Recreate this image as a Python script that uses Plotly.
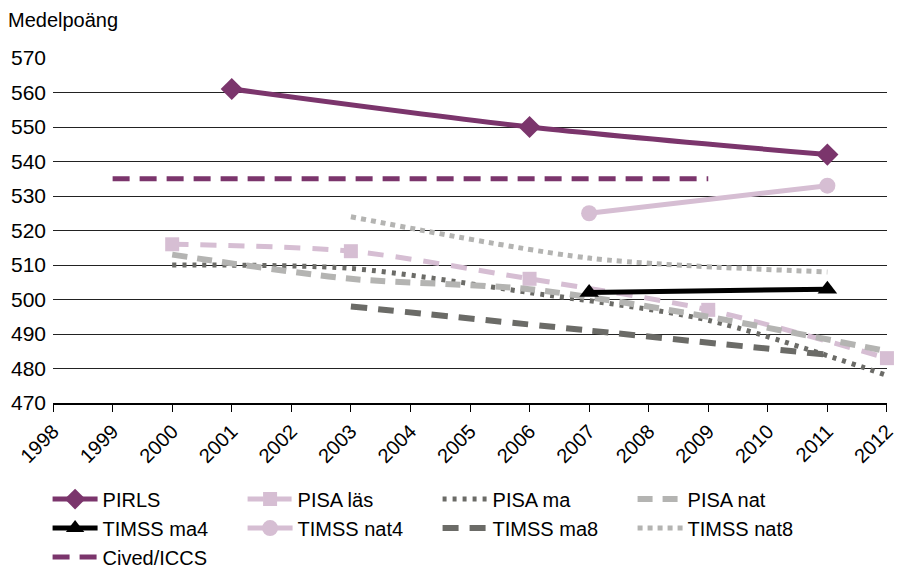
import plotly.graph_objects as go

years_pirls = [2001, 2006, 2011]
pirls = [561, 550, 542]
years_pisa = [2000, 2003, 2006, 2009, 2012]
pisa_las = [516, 514, 506, 497, 483]
pisa_ma = [510, 509, 502, 494, 478]
pisa_nat = [513, 506, 503, 495, 485]
years_timss4 = [2007, 2011]
timss_ma4 = [502, 503]
timss_nat4 = [525, 533]
years_timss8 = [2003, 2007, 2011]
timss_ma8 = [498, 491, 484]
timss_nat8 = [524, 512, 508]
years_cived = [1999, 2009]
cived = [535, 535]
x_ticks = list(range(1998, 2013))
y_ticks = list(range(470, 571, 10))

PURPLE = "#7B356C"
PINK = "#D6BED3"
DGRAY = "#6B6B67"
LGRAY = "#B4B4B2"

fig = go.Figure()

def add(name, x, y, color, dash="solid", width=5, symbol=None, msize=0):
    mode = "lines+markers" if symbol else "lines"
    fig.add_trace(go.Scatter(
        x=x, y=y, name=name, mode=mode, cliponaxis=False,
        line=dict(color=color, width=width, dash=dash, shape="spline", smoothing=0.8),
        marker=dict(symbol=symbol or "circle", size=msize, color=color) if symbol else None,
    ))

add("PIRLS", years_pirls, pirls, PURPLE, "solid", 5, "diamond", 17)
add("PISA läs", years_pisa, pisa_las, PINK, "16px,12px", 5, "square", 14)
add("PISA ma", years_pisa, pisa_ma, DGRAY, "4px,6px", 5)
add("PISA nat", years_pisa, pisa_nat, LGRAY, "15px,10px", 6)
add("TIMSS ma4", years_timss4, timss_ma4, "#000000", "solid", 5, "triangle-up", 17)
add("TIMSS nat4", years_timss4, timss_nat4, PINK, "solid", 5, "circle", 16)
add("TIMSS ma8", years_timss8, timss_ma8, DGRAY, "16px,11px", 6)
add("TIMSS nat8", years_timss8, timss_nat8, LGRAY, "5px,5px", 5)
add("Cived/ICCS", years_cived, cived, PURPLE, "17px,10px", 5)

fig.update_layout(
    width=899, height=575,
    margin=dict(l=53, r=12, t=58, b=172, autoexpand=False),
    paper_bgcolor="white", plot_bgcolor="white",
    font=dict(family="Liberation Sans, Arial, sans-serif", size=20, color="#000"),
    showlegend=True,
    legend=dict(orientation="h", x=-0.0065, xanchor="left", y=-0.222, yanchor="top",
                entrywidth=135, entrywidthmode="pixels", font=dict(size=20),
                traceorder="normal", itemwidth=45, tracegroupgap=0),
    xaxis=dict(range=[1997.999, 2012.001], tickvals=x_ticks, ticktext=[str(v) for v in x_ticks],
               tickangle=-45, showgrid=False, zeroline=False, automargin=False,
               ticklabeloverflow="allow",
               showline=True, linecolor="#000", linewidth=1.5,
               ticks="outside", ticklen=7, tickcolor="#000", tickwidth=1,
               tickfont=dict(size=20)),
    yaxis=dict(range=[470, 570], tickvals=y_ticks, showgrid=True, automargin=False,
               gridcolor="#222", gridwidth=1, zeroline=False, showline=False,
               ticks="", tickfont=dict(size=21), ticklabelstandoff=6),
)
fig.add_annotation(text="Medelpoäng", xref="paper", yref="paper", x=-53/834, y=1 + 38/345,
                   xanchor="left", yanchor="middle", showarrow=False, font=dict(size=20), xshift=6)

fig.write_html("out.html", config={"displayModeBar": False},
               post_script="document.body.style.margin='0';document.body.style.padding='0';")
